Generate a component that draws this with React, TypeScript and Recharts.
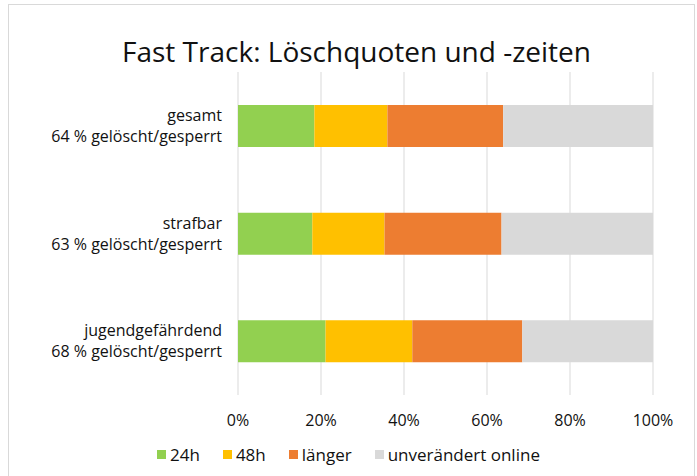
import { BarChart, Bar, XAxis, YAxis, CartesianGrid } from 'recharts';

const categories = ['gesamt', 'strafbar', 'jugendgefährdend'];
const subLabels = ['64 % gelöscht/gesperrt', '63 % gelöscht/gesperrt', '68 % gelöscht/gesperrt'];
const h24 = [18.4, 17.9, 21.1];
const h48 = [17.6, 17.4, 20.9];
const laenger = [27.9, 28.2, 26.5];
const online = [36.1, 36.5, 31.5];
const xTicks = [0, 20, 40, 60, 80, 100];

const series = [
  { key: '24h', values: h24, color: '#92D050' },
  { key: '48h', values: h48, color: '#FFC000' },
  { key: 'länger', values: laenger, color: '#ED7D31' },
  { key: 'unverändert online', values: online, color: '#D9D9D9' },
];

const data = categories.map((name, i) => {
  const row: Record<string, string | number> = { name, sub: subLabels[i] };
  series.forEach((s) => {
    row[s.key] = s.values[i];
  });
  return row;
});

const FONT = '"Open Sans", "Noto Sans", sans-serif';

function CategoryTick({ x, y, payload }: any) {
  const i = categories.indexOf(payload.value);
  return (
    <text x={x} y={y} textAnchor="end" fontSize={16} fill="#111" fontFamily={FONT}>
      <tspan x={x} dy={-5}>{payload.value}</tspan>
      <tspan x={x} dy={21}>{subLabels[i]}</tspan>
    </text>
  );
}

export default function App() {
  return (
    <div style={{ position: 'absolute', left: 0, top: 0, width: 697, height: 476, background: '#fff', overflow: 'hidden', fontFamily: FONT }}>
      <div style={{ position: 'absolute', left: 8, top: 4, width: 685, height: 490, border: '1px solid #d9d9d9' }} />
      <div style={{ position: 'absolute', left: 0, top: 32, width: 697, textAlign: 'center', fontSize: 28, color: '#111', paddingLeft: 8 }}>
        Fast Track: Löschquoten und -zeiten
      </div>
      <div style={{ position: 'absolute', left: 0, top: 0 }}>
        <BarChart
          width={697}
          height={440}
          data={data}
          layout="vertical"
          margin={{ top: 72, right: 44, bottom: 0, left: 0 }}
          barSize={42}
        >
          <CartesianGrid horizontal={false} stroke="#d9d9d9" />
          <XAxis
            type="number"
            domain={[0, 100]}
            ticks={xTicks}
            tickFormatter={(v) => `${v}%`}
            axisLine={false}
            tickLine={false}
            tickMargin={14}
            height={45}
            tick={{ fill: '#111', fontSize: 16, fontFamily: FONT }}
            interval={0}
          />
          <YAxis
            type="category"
            dataKey="name"
            width={238}
            axisLine={false}
            tickLine={false}
            tickMargin={10}
            tick={<CategoryTick />}
          />
          {series.map((s) => (
            <Bar key={s.key} dataKey={s.key} stackId="a" fill={s.color} isAnimationActive={false} />
          ))}
        </BarChart>
      </div>
      <div style={{ position: 'absolute', left: 157, top: 443, display: 'flex', fontSize: 17, color: '#111' }}>
        {series.map((s) => (
          <div key={s.key} style={{ display: 'flex', alignItems: 'center', marginRight: 23 }}>
            <span style={{ width: 9, height: 9, background: s.color, marginRight: 4, display: 'inline-block' }} />
            <span>{s.key}</span>
          </div>
        ))}
      </div>
    </div>
  );
}
